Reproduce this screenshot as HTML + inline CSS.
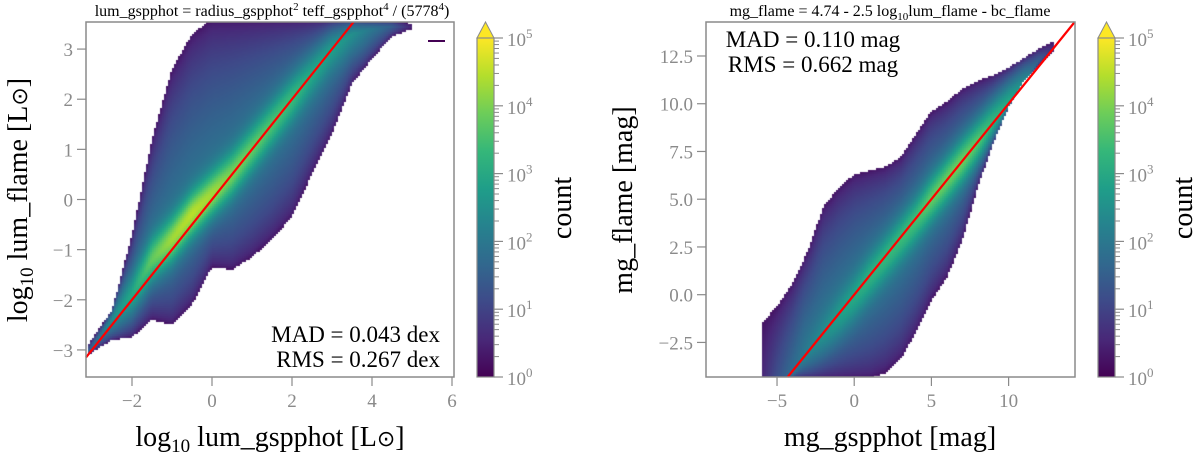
<!DOCTYPE html>
<html><head><meta charset="utf-8">
<style>
html,body{margin:0;padding:0;background:#fff;}
#wrap{position:relative;width:1200px;height:455px;overflow:hidden;font-family:"Liberation Serif",serif;}
canvas{position:absolute;}
svg{position:absolute;left:0;top:0;}
</style></head>
<body>
<div id="wrap">
<canvas id="hmL"></canvas>
<canvas id="hmR"></canvas>
<svg id="svg" width="1200" height="455"></svg>
</div>
<script>
// ---- Left panel data (per x column: lower edge, upper edge, ridge y, peak log10 count)
const leftX     = [-3.1,-2.5,-2,-1.5,-1,-0.5,0,0.5,1,1.5,2,2.5,3,3.5,4,4.5,5];
const leftLow   = [-3.1,-2.8,-2.75,-2.4,-2.5,-2.1,-1.35,-1.4,-1.15,-0.8,-0.35,0.5,1.3,2.3,2.8,3.25,3.4];
const leftHigh  = [-2.9,-2.2,-0.7,1.2,2.6,3.3,3.6,3.6,3.6,3.6,3.6,3.6,3.6,3.6,3.6,3.6,3.5];
const leftRidge = [-3.05,-2.4,-1.9,-1.2,-0.8,-0.3,0.1,0.5,1.0,1.5,2.0,2.5,3.0,3.3,3.4,3.45,3.45];
const leftPeak  = [1.5,2.5,3.0,3.8,4.3,4.5,4.3,4.0,3.8,3.6,3.4,3.0,2.8,2.5,2.0,1.5,0.5];
// ---- Right panel data
const rightX     = [-6,-5,-4,-3,-2,-1,0,1,2,3,4,5,6,7,8,9,10,11,12,13];
const rightLow   = [-4.4,-4.4,-4.4,-4.4,-4.4,-4.4,-4.4,-4.4,-4.1,-3.4,-2.0,-0.3,0.9,2.8,5.6,7.9,9.8,11.2,12.0,12.8];
const rightHigh  = [-1.5,-0.6,0.6,2.3,4.6,5.6,6.3,6.5,6.7,7.2,8.4,9.6,10.1,10.8,11.2,11.5,11.9,12.4,12.9,13.3];
const rightRidge = [-4.3,-4.3,-4.2,-3.2,-2.2,-1.2,-0.2,0.9,1.9,2.9,3.9,5.0,6.0,7.0,8.0,9.1,10.1,11.1,12.3,13.0];
const rightPeak  = [0.5,1.2,1.8,2.2,2.5,2.8,3.0,3.2,3.3,3.4,3.5,3.8,3.9,3.9,3.7,3.3,3.0,2.5,1.5,0.5];
// ticks
const leftXTicks = [-2,0,2,4,6];
const leftYTicks = [-3,-2,-1,0,1,2,3];
const rightXTicks = [-5,0,5,10];
const rightYTicks = [-2.5,0.0,2.5,5.0,7.5,10.0,12.5];
const cbExps = [0,1,2,3,4,5];

const VIR=[[68,1,84],[72,40,120],[62,74,137],[49,104,142],[38,130,142],[31,158,137],[53,183,121],[109,205,89],[180,222,44],[253,231,37]];
function vir(t){t=Math.max(0,Math.min(1,t));const f=t*9,i=Math.min(8,Math.floor(f)),r=f-i;const a=VIR[i],b=VIR[i+1];return [a[0]+(b[0]-a[0])*r,a[1]+(b[1]-a[1])*r,a[2]+(b[2]-a[2])*r];}

const P={
 L:{l:86,r:454,t:22,b:377,x0:-3.15,x1:6.05,y0:-3.54,y1:3.54,xs:leftX,lo:leftLow,hi:leftHigh,ri:leftRidge,pk:leftPeak,w:0.45},
 R:{l:706,r:1075,t:22,b:377,x0:-9.6,x1:14.3,y0:-4.31,y1:14.28,xs:rightX,lo:rightLow,hi:rightHigh,ri:rightRidge,pk:rightPeak,w:1.2}
};
function sx(p,v){return p.l+(v-p.x0)/(p.x1-p.x0)*(p.r-p.l);}
function sy(p,v){return p.b-(v-p.y0)/(p.y1-p.y0)*(p.b-p.t);}
function interp(xs,arr,x){if(x<xs[0]||x>xs[xs.length-1])return null;for(let i=0;i<xs.length-1;i++){if(x<=xs[i+1]){const r=(x-xs[i])/(xs[i+1]-xs[i]);return arr[i]+(arr[i+1]-arr[i])*r;}}return arr[arr.length-1];}

function drawHeat(id,p){
 const c=document.getElementById(id);const W=p.r-p.l,H=p.b-p.t;
 c.width=W;c.height=H;c.style.left=p.l+'px';c.style.top=p.t+'px';
 const ctx=c.getContext('2d');const cell=2;
 for(let px=0;px<W;px+=cell){
  const x=p.x0+(px+cell/2)/W*(p.x1-p.x0);
  const lo=interp(p.xs,p.lo,x);if(lo===null)continue;
  const hi=interp(p.xs,p.hi,x),ri=interp(p.xs,p.ri,x),pk=interp(p.xs,p.pk,x);
  for(let py=0;py<H;py+=cell){
   const y=p.y1-(py+cell/2)/H*(p.y1-p.y0);
   if(y<lo||y>hi)continue;
   const d=y-ri;let fr=d>0?d/Math.max(0.01,hi-ri):-d/Math.max(0.01,ri-lo);fr=Math.min(1,fr);
   const base=Math.min(pk,2.1);
   let v=0.2+(base-0.2)*Math.pow(1-fr,0.6)+Math.max(0,pk-base)*Math.exp(-(d/p.w)*(d/p.w));
   const col=vir(v/5);
   ctx.fillStyle='rgb('+col.map(Math.round).join(',')+')';
   ctx.fillRect(px,py,cell,cell);
  }
 }
}
drawHeat('hmL',P.L);drawHeat('hmR',P.R);

const svg=document.getElementById('svg');const NS='http://www.w3.org/2000/svg';
function el(tag,attrs,txt){const e=document.createElementNS(NS,tag);for(const k in attrs)e.setAttribute(k,attrs[k]);if(txt!==undefined)e.innerHTML=txt;svg.appendChild(e);return e;}
const G='#8a8a8a';
function panel(p,key,xt,yt,yfmt){
 const a=Math.max(p.x0,p.y0),b=Math.min(p.x1,p.y1);
 const ln=el('line',{x1:sx(p,a),y1:sy(p,a),x2:sx(p,b),y2:sy(p,b),stroke:'#ff0000','stroke-width':2.2});
 
 
 const fr=el('rect',{x:p.l,y:p.t,width:p.r-p.l,height:p.b-p.t,fill:'none',stroke:G,'stroke-width':1.5});
 
 
 xt.forEach(v=>{const X=sx(p,v);
  const t=el('line',{x1:X,y1:p.b,x2:X,y2:p.b+9,stroke:G,'stroke-width':1.2});
  
  
  const l=el('text',{x:X,y:p.b+30,'text-anchor':'middle','font-size':19,fill:G},v<0?'\u2212'+(-v):String(v));
  
  });
 yt.forEach(v=>{const Y=sy(p,v);
  const t=el('line',{x1:p.l-9,y1:Y,x2:p.l,y2:Y,stroke:G,'stroke-width':1.2});
  
  
  const s=yfmt(v);
  const l=el('text',{x:p.l-13,y:Y+7,'text-anchor':'end','font-size':19,fill:G},v<0?'\u2212'+s.slice(1):s);
  
  });
}
panel(P.L,'left',leftXTicks,leftYTicks,v=>String(v));
panel(P.R,'right',rightXTicks,rightYTicks,v=>v.toFixed(1));

function colorbar(x,key){
 const w=17,top=38,bot=377;
 const gid='g'+key;
 const defs=el('defs',{});
 let stops='';for(let i=0;i<=9;i++){const c=VIR[i];stops+='<stop offset="'+(i/9)+'" stop-color="rgb('+c.join(',')+')"/>';}
 defs.innerHTML='<linearGradient id="'+gid+'" x1="0" y1="1" x2="0" y2="0">'+stops+'</linearGradient>';
 const r=el('rect',{x:x,y:top,width:w,height:bot-top,fill:'url(#'+gid+')'});
 
 
 const tri=el('polygon',{points:x+','+top+' '+(x+w/2)+',22 '+(x+w)+','+top,fill:'rgb(253,231,37)',stroke:G,'stroke-width':1});
 
 
 el('rect',{x:x,y:top,width:w,height:bot-top,fill:'none',stroke:G,'stroke-width':1.2});
 const Y=e=>bot-e/5*(bot-top);
 cbExps.forEach(e=>{
  el('line',{x1:x+w,y1:Y(e),x2:x+w+9,y2:Y(e),stroke:G,'stroke-width':1.2});
  const l=el('text',{x:x+w+13,y:Y(e)+8,'font-size':19,fill:G},'10<tspan dy="-8" font-size="13">'+e+'</tspan>');
  
  
  if(e<5)for(let m=2;m<=9;m++){const yy=Y(e+Math.log10(m));el('line',{x1:x+w,y1:yy,x2:x+w+5,y2:yy,stroke:G,'stroke-width':1});}
 });
 const c=el('text',{x:0,y:0,'font-size':28,fill:'#000','text-anchor':'middle',transform:'translate('+(x+w+77)+',208) rotate(-90)'},'count');
 
 
}
colorbar(477,'left');colorbar(1098,'right');

function txt(name,attrs,s){const t=el('text',attrs,s);return t;}
txt('left-title',{x:272,y:16,'font-size':16,'text-anchor':'middle',fill:'#000'},'lum_gspphot = radius_gspphot<tspan dy="-6" font-size="11">2</tspan><tspan dy="6"> teff_gspphot</tspan><tspan dy="-6" font-size="11">4</tspan><tspan dy="6"> / (5778</tspan><tspan dy="-6" font-size="11">4</tspan><tspan dy="6">)</tspan>');
txt('right-title',{x:890,y:16,'font-size':16,'text-anchor':'middle',fill:'#000'},'mg_flame = 4.74 - 2.5 log<tspan dy="4" font-size="11">10</tspan><tspan dy="-4">lum_flame - bc_flame</tspan>');
txt('left-x-axis-title',{x:270,y:446,'font-size':28,'text-anchor':'middle',fill:'#000'},'log<tspan dy="6" font-size="19">10</tspan><tspan dy="-6"> lum_gspphot [L</tspan><tspan font-size="22">\u2299</tspan>]');
txt('left-y-axis-title',{x:0,y:0,'font-size':28,'text-anchor':'middle',fill:'#000',transform:'translate(27,200) rotate(-90)'},'log<tspan dy="6" font-size="19">10</tspan><tspan dy="-6"> lum_flame [L</tspan><tspan font-size="22">\u2299</tspan>]');
txt('right-x-axis-title',{x:890,y:446,'font-size':28,'text-anchor':'middle',fill:'#000'},'mg_gspphot [mag]');
txt('right-y-axis-title',{x:0,y:0,'font-size':28,'text-anchor':'middle',fill:'#000',transform:'translate(632,200) rotate(-90)'},'mg_flame [mag]');
txt('left-mad-annotation',{x:440,y:342,'font-size':23,'text-anchor':'end',fill:'#000'},'MAD = 0.043 dex');
txt('left-rms-annotation',{x:440,y:367,'font-size':23,'text-anchor':'end',fill:'#000'},'RMS = 0.267 dex');
txt('right-mad-annotation',{x:813,y:47,'font-size':23,'text-anchor':'middle',fill:'#000'},'MAD = 0.110 mag');
txt('right-rms-annotation',{x:813,y:72,'font-size':23,'text-anchor':'middle',fill:'#000'},'RMS = 0.662 mag');
const dash=el('line',{x1:428,y1:41,x2:445,y2:41,stroke:'rgb(68,1,84)','stroke-width':2});


</script>
</body></html>
